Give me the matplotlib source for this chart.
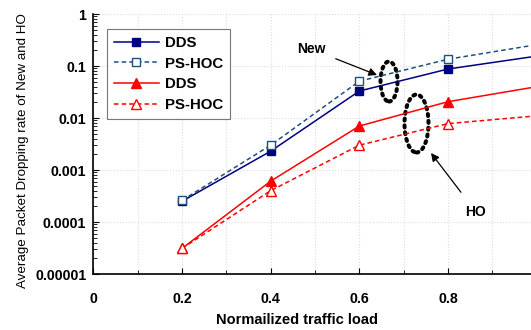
import matplotlib

matplotlib.use("Agg")
import matplotlib.pyplot as plt
from matplotlib.patches import Ellipse
from matplotlib.ticker import FixedLocator, LogLocator, NullFormatter

plt.rcParams["font.family"] = ["Liberation Sans", "DejaVu Sans"]

# values
load = [0.2, 0.4, 0.6, 0.8, 1.0]
new_dds = [2.5e-4, 2.3e-3, 0.033, 0.0875, 0.155]
new_pshoc = [2.6e-4, 3.0e-3, 0.051, 0.135, 0.257]
ho_dds = [3.1e-5, 6.1e-4, 0.0070, 0.0206, 0.040]
ho_pshoc = [3.1e-5, 4.0e-4, 0.0030, 0.0078, 0.011]

x_ticks = [0, 0.2, 0.4, 0.6, 0.8]
x_labels = ["0", "0.2", "0.4", "0.6", "0.8"]
y_ticks = [1e-5, 1e-4, 1e-3, 1e-2, 1e-1, 1]
y_labels = ["0.00001", "0.0001", "0.001", "0.01", "0.1", "1"]

W, H = 531, 330
fig = plt.figure(figsize=(W / 100, H / 100), dpi=100)
# axes runs slightly past the right edge, as in the cropped original
ax = fig.add_axes([93.3 / W, 1 - 274 / H, (536.7 - 93.3) / W, (274 - 14) / H])

navy = "#000080"
steel = "#1f4f7d"
red = "#ff0000"

ax.plot(load, new_dds, color=navy, lw=1.1, marker="s", ms=6.3,
        mfc=navy, mec=navy, label="DDS")
ax.plot(load, new_pshoc, color=steel, lw=1.1, ls=(0, (3, 2)), marker="s", ms=6.3,
        mfc="white", mec=steel, label="PS-HOC")
ax.plot(load, ho_dds, color=red, lw=1.1, marker="^", ms=6.8,
        mfc=red, mec=red, label="DDS")
ax.plot(load, ho_pshoc, color=red, lw=1.1, ls=(0, (3, 2)), marker="^", ms=6.8,
        mfc="white", mec=red, label="PS-HOC")

ax.set_yscale("log")
ax.set_xlim(0, 1.0)
ax.set_ylim(1e-5, 1)

ax.xaxis.set_major_locator(FixedLocator(x_ticks))
ax.xaxis.set_minor_locator(FixedLocator([0.1, 0.3, 0.5, 0.7, 0.9]))
ax.set_xticklabels(x_labels)
ax.yaxis.set_major_locator(FixedLocator(y_ticks))
ax.set_yticklabels(y_labels)
ax.yaxis.set_minor_locator(LogLocator(base=10, subs=range(2, 10)))
ax.yaxis.set_minor_formatter(NullFormatter())

ax.tick_params(which="both", direction="in", labelsize=10.2)
ax.tick_params(which="major", length=4, width=0.8)
ax.tick_params(which="minor", length=3, width=0.6)
ax.tick_params(axis="x", pad=13)
ax.tick_params(axis="y", pad=5)
for lab in ax.get_xticklabels() + ax.get_yticklabels():
    lab.set_fontweight("bold")

ax.grid(True, which="major", axis="y", color="#dcdcdc", lw=0.8, ls=":")
ax.grid(True, which="both", axis="x", color="#dcdcdc", lw=0.8, ls=":")
ax.set_axisbelow(True)

ax.spines["top"].set_visible(False)
ax.spines["right"].set_visible(False)
for s in ("left", "bottom"):
    ax.spines[s].set_linewidth(1.2)

fig.text(296.5 / W, 1 - 320 / H, "Normailized traffic load", ha="center", va="center",
         fontsize=10.5, fontweight="bold")
fig.text(23 / W, 1 - 151 / H, "Average Packet Dropping rate of New and HO",
         rotation=90, ha="center", va="center", fontsize=9.6)

leg = ax.legend(loc="upper left", bbox_to_anchor=((107 - 93.3) / 443.4, (274 - 29) / 260),
                prop={"weight": "bold", "size": 10.8}, frameon=True, fancybox=False,
                handlelength=3, labelspacing=0.45, borderpad=0.45, handletextpad=0.4,
                borderaxespad=0)
leg.get_frame().set_edgecolor("#555555")
leg.get_frame().set_linewidth(0.8)

# annotations (figure-fraction positions)
def fx(px):
    return px / W


def fy(py):
    return 1 - py / H


for cx, cy, w, h in [(389, 81.5, 17, 40), (416.5, 123.5, 24, 58)]:
    ax.add_patch(Ellipse((fx(cx), fy(cy)), w / W, h / H, transform=fig.transFigure,
                         fill=False, ec="black", lw=2.9, ls=(0, (0.5, 1.2)),
                         capstyle="round", clip_on=False))

ax.annotate("New", xy=(fx(377), fy(75)), xycoords="figure fraction",
            xytext=(fx(311), fy(49)), textcoords="figure fraction",
            ha="center", va="center", fontsize=10, fontweight="bold",
            arrowprops=dict(arrowstyle="-|>", color="black", lw=0.9,
                            mutation_scale=12, shrinkA=6, shrinkB=0))
ax.annotate("HO", xy=(fx(431), fy(153)), xycoords="figure fraction",
            xytext=(fx(476), fy(212)), textcoords="figure fraction",
            ha="center", va="center", fontsize=10, fontweight="bold",
            arrowprops=dict(arrowstyle="-|>", color="black", lw=0.9,
                            mutation_scale=12, shrinkA=9, shrinkB=0))

fig.savefig("out.png", dpi=100)
